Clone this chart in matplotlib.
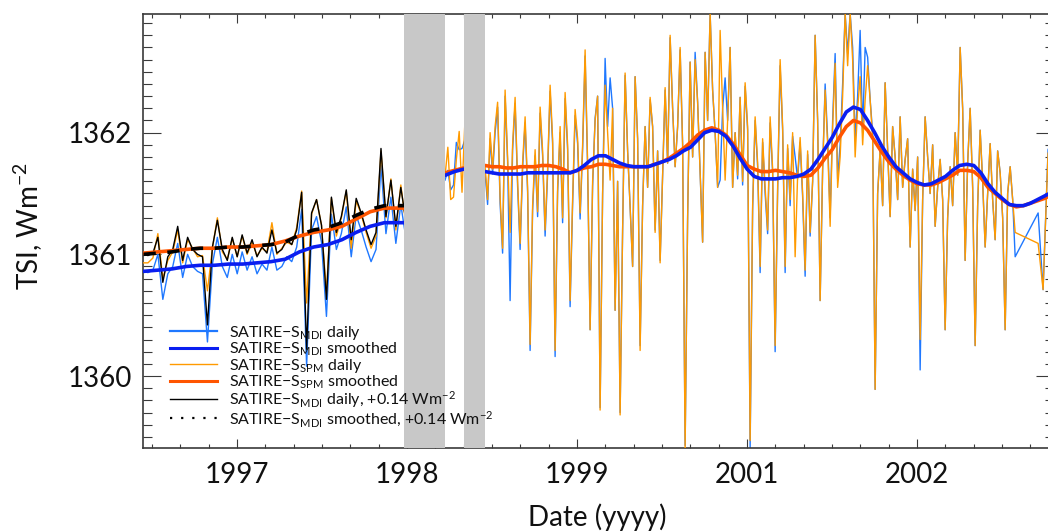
import numpy as np
import matplotlib
matplotlib.use("Agg")
import matplotlib.pyplot as plt
from matplotlib.lines import Line2D
from matplotlib.ticker import FixedLocator, MultipleLocator, FuncFormatter

# SATIRE-S total solar irradiance: MDI and SPM based reconstructions

# daily values before the 1998 gap (one every 0.035 yr)
pre_start = 1996.836
mdi_daily_pre = [
    1360.86, 1360.85, 1360.87, 1361.00, 1360.63, 1360.84, 1360.90, 1361.09, 1360.81, 1361.00,
    1360.90, 1360.86, 1360.84, 1360.28, 1360.92, 1361.14, 1360.90, 1360.81, 1361.00, 1360.84,
    1361.02, 1360.87, 1360.98, 1360.84, 1360.92, 1360.87, 1361.06, 1360.87, 1360.90, 1360.98,
    1360.94, 1361.06, 1361.37, 1360.08, 1361.20, 1361.31, 1361.10, 1360.49, 1361.33, 1361.04,
    1361.17, 1361.39, 1360.98, 1361.32, 1361.20, 1361.06, 1360.94, 1361.04, 1361.73, 1361.17,
    1361.47, 1361.09, 1361.41, 1361.14,
]
spm_daily_pre = [
    1360.93, 1360.93, 1360.97, 1361.17, 1360.80, 1360.95, 1361.02, 1361.20, 1360.93, 1361.12,
    1361.05, 1360.98, 1360.99, 1360.70, 1361.05, 1361.30, 1361.02, 1360.96, 1361.13, 1360.98,
    1361.15, 1361.00, 1361.10, 1360.99, 1361.05, 1361.02, 1361.26, 1361.00, 1361.05, 1361.10,
    1361.08, 1361.22, 1361.52, 1360.60, 1361.33, 1361.45, 1361.24, 1360.68, 1361.46, 1361.15,
    1361.30, 1361.52, 1361.05, 1361.44, 1361.33, 1361.18, 1361.05, 1361.15, 1361.85, 1361.30,
    1361.62, 1361.20, 1361.57, 1361.25,
]

# short stretch between the two gaps (one every 0.02 yr)
mid_start = 1998.968
mdi_daily_mid = [1361.61, 1361.69, 1361.53, 1361.57, 1361.92, 1361.86, 1361.87, 1361.94]
spm_daily_mid = [1361.64, 1361.88, 1361.45, 1361.47, 1361.78, 1362.01, 1361.51, 1362.08]

# after the gaps: values every 0.0353 yr ...
post_start = 1999.251
mdi_daily_post = [
    1361.67, 1361.95, 1362.00, 1361.42, 1362.30, 1360.62, 1362.24, 1361.04, 1362.08, 1360.21,
    1361.81, 1362.16, 1361.15, 1362.34, 1360.16, 1362.00, 1362.28, 1360.57, 1362.14, 1361.29,
    1362.63, 1360.38, 1362.12, 1359.74, 1362.61, 1362.45, 1360.54, 1359.70, 1362.47, 1361.39,
    1362.46, 1360.25, 1362.05, 1362.27, 1361.20, 1360.95, 1362.35, 1362.78, 1361.72, 1362.68,
    1359.43, 1362.58, 1362.66, 1361.67, 1362.66, 1362.98, 1362.00, 1361.61, 1362.45, 1362.70,
    1362.00, 1362.29, 1362.38, 1359.41, 1362.10, 1360.85, 1361.50, 1362.08, 1360.20, 1362.55,
    1360.85, 1361.40, 1361.80, 1361.92, 1360.82, 1361.15, 1362.80, 1360.62, 1362.40, 1361.30,
    1362.65, 1361.90, 1362.98, 1362.98, 1361.95, 1362.84, 1362.70, 1362.27, 1359.89, 1361.86,
    1362.41, 1361.31, 1361.80, 1362.13, 1361.78, 1361.06, 1361.36, 1360.05, 1362.13, 1361.50,
    1361.23, 1361.78, 1360.38, 1361.72, 1362.00, 1362.70, 1360.95, 1362.20, 1360.25, 1362.02,
    1361.06, 1361.91, 1361.12, 1361.67, 1360.38, 1361.72, 1360.98,
]
spm_daily_post = [
    1361.72, 1362.00, 1362.05, 1361.47, 1362.35, 1361.18, 1362.29, 1361.09, 1362.13, 1360.26,
    1361.86, 1362.21, 1361.20, 1362.39, 1360.21, 1362.05, 1362.33, 1360.62, 1362.19, 1361.34,
    1362.68, 1360.38, 1362.10, 1359.72, 1362.39, 1361.61, 1360.54, 1359.68, 1362.49, 1361.39,
    1362.46, 1360.21, 1362.05, 1362.29, 1361.18, 1360.93, 1362.37, 1362.80, 1361.72, 1362.70,
    1359.41, 1362.58, 1362.60, 1361.67, 1362.66, 1362.98, 1362.00, 1362.84, 1361.61, 1362.70,
    1362.00, 1362.29, 1362.41, 1359.47, 1362.13, 1360.90, 1361.55, 1362.13, 1360.25, 1362.60,
    1360.90, 1361.45, 1360.98, 1361.96, 1360.87, 1361.18, 1362.80, 1360.62, 1362.35, 1361.23,
    1362.57, 1361.80, 1362.98, 1362.98, 1361.80, 1362.46, 1362.27, 1362.27, 1359.89, 1361.86,
    1362.41, 1361.31, 1361.80, 1362.13, 1361.78, 1361.06, 1361.36, 1360.30, 1362.13, 1361.50,
    1361.23, 1361.78, 1360.38, 1361.72, 1362.00, 1362.70, 1360.95, 1362.20, 1360.25, 1362.02,
    1361.06, 1361.91, 1361.12, 1361.67, 1360.38, 1361.72, 1361.18,
]
# ... and the days half way between them
mdi_daily_post_half = [
    1361.41, 1361.66, 1362.21, 1361.01, 1361.76, 1361.86, 1361.56, 1361.71, 1361.51, 1361.36,
    1361.31, 1361.81, 1361.66, 1361.91, 1361.51, 1361.26, 1361.86, 1361.41, 1361.91, 1361.86,
    1361.71, 1361.56, 1362.30, 1361.50, 1362.05, 1362.20, 1361.60, 1361.20, 1361.85, 1360.90,
    1361.95, 1361.40, 1361.55, 1362.05, 1361.85, 1361.65, 1361.75, 1362.20, 1362.05, 1361.90,
    1361.30, 1361.80, 1362.25, 1361.10, 1362.10, 1362.35, 1361.55, 1362.20, 1362.10, 1361.55,
    1361.62, 1361.57, 1362.02, 1361.37, 1361.72, 1361.92, 1361.17, 1361.67, 1361.52, 1362.02,
    1361.87, 1361.97, 1361.62, 1361.47, 1361.82, 1361.60, 1362.10, 1361.70, 1361.95, 1362.10,
    1361.62, 1362.40, 1362.65, 1362.70, 1362.30, 1362.00, 1362.62, 1362.00, 1361.50, 1361.40,
    1361.85, 1362.05, 1361.45, 1361.55, 1361.95, 1361.70, 1361.80, 1361.45, 1361.80, 1361.90,
    1361.55, 1361.45, 1361.30, 1361.40, 1361.65, 1362.20, 1361.75, 1361.55, 1361.40, 1361.60,
    1361.50, 1361.45, 1361.85, 1361.30, 1361.50, 1361.45,
]
spm_daily_post_half = [
    1361.45, 1361.70, 1362.25, 1361.05, 1361.80, 1361.90, 1361.60, 1361.75, 1361.55, 1361.40,
    1361.35, 1361.85, 1361.70, 1361.95, 1361.55, 1361.30, 1361.90, 1361.45, 1361.95, 1361.90,
    1361.75, 1361.60, 1362.30, 1361.50, 1362.00, 1362.20, 1361.60, 1361.20, 1361.85, 1360.90,
    1361.95, 1361.40, 1361.55, 1362.05, 1361.85, 1361.65, 1361.75, 1362.20, 1362.05, 1361.90,
    1361.30, 1361.80, 1362.25, 1361.10, 1362.10, 1362.35, 1361.55, 1362.20, 1362.10, 1361.55,
    1361.65, 1361.60, 1362.05, 1361.40, 1361.75, 1361.95, 1361.20, 1361.70, 1361.55, 1362.05,
    1361.90, 1362.00, 1361.65, 1361.50, 1361.85, 1361.60, 1362.10, 1361.70, 1361.90, 1362.05,
    1361.55, 1362.30, 1362.55, 1362.60, 1362.20, 1361.90, 1362.55, 1361.95, 1361.50, 1361.40,
    1361.85, 1362.05, 1361.45, 1361.55, 1361.95, 1361.70, 1361.80, 1361.45, 1361.80, 1361.90,
    1361.55, 1361.45, 1361.30, 1361.40, 1361.65, 1362.20, 1361.75, 1361.55, 1361.40, 1361.60,
    1361.50, 1361.45, 1361.85, 1361.30, 1361.50, 1361.45,
]
late_dates = [2003.155, 2003.190, 2003.225, 2003.260]
mdi_daily_late = [1361.34, 1360.71, 1361.86, 1361.95]
spm_daily_late = [1361.09, 1360.71, 1361.83, 1361.92]

# smoothed series: every 0.1 yr before the gap, every 0.05 yr after it
mdi_smooth_pre = [
    1360.86, 1360.87, 1360.88, 1360.90, 1360.91, 1360.91, 1360.92, 1360.92, 1360.93, 1360.94,
    1360.96, 1361.02, 1361.06, 1361.08, 1361.12, 1361.18, 1361.23, 1361.26, 1361.26, 1361.26,
]
spm_smooth_pre = [
    1361.01, 1361.02, 1361.03, 1361.04, 1361.05, 1361.05, 1361.06, 1361.06, 1361.07, 1361.08,
    1361.11, 1361.15, 1361.18, 1361.20, 1361.23, 1361.29, 1361.35, 1361.38, 1361.38, 1361.38,
]
mid_smooth_dates = [1998.97, 1999.035, 1999.10]
mdi_smooth_mid = [1361.65, 1361.68, 1361.70]
spm_smooth_mid = [1361.67, 1361.69, 1361.71]
mdi_smooth_post = [
    1361.68, 1361.67, 1361.66, 1361.66, 1361.66, 1361.66, 1361.67, 1361.67, 1361.67, 1361.67,
    1361.67, 1361.67, 1361.67, 1361.69, 1361.73, 1361.78, 1361.81, 1361.81, 1361.78, 1361.75,
    1361.73, 1361.72, 1361.72, 1361.72, 1361.74, 1361.76, 1361.78, 1361.81, 1361.85, 1361.88,
    1361.94, 1362.00, 1362.02, 1362.01, 1361.97, 1361.89, 1361.79, 1361.70, 1361.64, 1361.62,
    1361.62, 1361.62, 1361.63, 1361.63, 1361.64, 1361.66, 1361.70, 1361.78, 1361.87, 1361.96,
    1362.07, 1362.17, 1362.21, 1362.19, 1362.10, 1362.00, 1361.89, 1361.80, 1361.72, 1361.67,
    1361.62, 1361.59, 1361.57, 1361.58, 1361.61, 1361.64, 1361.69, 1361.73, 1361.74, 1361.73,
    1361.67, 1361.58, 1361.51, 1361.46, 1361.41, 1361.40, 1361.40, 1361.42, 1361.45, 1361.48,
    1361.51,
]
spm_smooth_post = [
    1361.73, 1361.72, 1361.72, 1361.71, 1361.71, 1361.72, 1361.72, 1361.72, 1361.73, 1361.73,
    1361.72, 1361.70, 1361.67, 1361.69, 1361.71, 1361.72, 1361.74, 1361.74, 1361.73, 1361.72,
    1361.72, 1361.72, 1361.72, 1361.72, 1361.74, 1361.76, 1361.79, 1361.83, 1361.87, 1361.92,
    1361.98, 1362.02, 1362.04, 1362.02, 1361.98, 1361.91, 1361.82, 1361.73, 1361.70, 1361.68,
    1361.68, 1361.69, 1361.68, 1361.67, 1361.65, 1361.64, 1361.65, 1361.71, 1361.79, 1361.86,
    1361.96, 1362.05, 1362.10, 1362.08, 1362.02, 1361.93, 1361.84, 1361.76, 1361.70, 1361.65,
    1361.61, 1361.58, 1361.57, 1361.57, 1361.59, 1361.62, 1361.65, 1361.69, 1361.69, 1361.68,
    1361.63, 1361.55, 1361.50, 1361.45, 1361.41, 1361.39, 1361.40, 1361.42, 1361.44, 1361.46,
    1361.49,
]

gaps = [(1998.68, 1998.968), (1999.10, 1999.251)]
mdi_offset = 0.14
tick_years = [1997.5, 1998.7, 1999.9, 2001.1, 2002.3]


def interleave(a, b):
    out = np.empty(len(a) + len(b))
    out[0::2] = a
    out[1::2] = b
    return out


# build date axes
pre_dates = pre_start + 0.035 * np.arange(len(mdi_daily_pre))
mid_dates = mid_start + 0.02 * np.arange(len(mdi_daily_mid))
mdi_post = np.concatenate([interleave(mdi_daily_post, mdi_daily_post_half), mdi_daily_late])
spm_post = np.concatenate([interleave(spm_daily_post, spm_daily_post_half), spm_daily_late])
post_dates = np.concatenate([post_start + 0.01765 * np.arange(len(mdi_post) - len(late_dates)),
                             late_dates])
spre_dates = 1996.84 + 0.1 * np.arange(len(mdi_smooth_pre))
spost_dates = post_start + 0.05 * np.arange(len(mdi_smooth_post))


def joined(*parts):
    xs, ys = [], []
    for x, y in parts:
        xs += list(x) + [np.nan]
        ys += list(y) + [np.nan]
    return np.array(xs), np.array(ys)


dx, mdi_d = joined((pre_dates, mdi_daily_pre), (mid_dates, mdi_daily_mid), (post_dates, mdi_post))
_, spm_d = joined((pre_dates, spm_daily_pre), (mid_dates, spm_daily_mid), (post_dates, spm_post))
sx, mdi_s = joined((spre_dates, mdi_smooth_pre), (mid_smooth_dates, mdi_smooth_mid),
                   (spost_dates, mdi_smooth_post))
_, spm_s = joined((spre_dates, spm_smooth_pre), (mid_smooth_dates, spm_smooth_mid),
                  (spost_dates, spm_smooth_post))

plt.rcParams['font.family'] = ['Lato', 'DejaVu Sans']
plt.rcParams['mathtext.fontset'] = 'custom'
plt.rcParams['mathtext.rm'] = 'Lato'
plt.rcParams['mathtext.it'] = 'Lato:italic'

axis_col = '#3a3a3a'
text_col = '#111111'
c_mdi, c_mdi_s = '#1f78ff', '#0a1ef0'
c_spm, c_spm_s = '#ff9a00', '#ff5500'

fig = plt.figure(figsize=(10.48, 5.32), dpi=100)
ax = fig.add_axes([143 / 1048, 83.7 / 532, 911 / 1048, 434.3 / 532])

ax.plot(dx, mdi_d, color=c_mdi, lw=1.0, zorder=2)
ax.plot(dx, spm_d, color=c_spm, lw=1.0, zorder=3)
ax.plot(pre_dates, np.array(mdi_daily_pre) + mdi_offset, color='black', lw=1.0, zorder=4)
ax.plot(sx, spm_s, color=c_spm_s, lw=2.6, zorder=5, solid_capstyle='round')
ax.plot(sx, mdi_s, color=c_mdi_s, lw=2.6, zorder=6, solid_capstyle='round')
ax.plot(spre_dates, np.array(mdi_smooth_pre) + mdi_offset, color='black', lw=2.6,
        ls=(0, (3.4, 3.2)), zorder=7)

# data gaps, drawn over the curves and the axis lines
for a, b in gaps:
    ax.axvspan(a, b, color='#c8c8c8', lw=0, zorder=10)

ax.set_xlim(1996.836, 2003.267)
ax.set_ylim(1359.406, 1362.975)

ax.xaxis.set_major_locator(FixedLocator(tick_years))
ax.xaxis.set_minor_locator(FixedLocator(np.arange(1996.9, 2003.3, 0.2)))
ax.xaxis.set_major_formatter(FuncFormatter(lambda v, p: str(int(np.floor(v + 1e-6)))))
ax.yaxis.set_major_locator(FixedLocator([1360, 1361, 1362]))
ax.yaxis.set_minor_locator(MultipleLocator(0.1))
ax.yaxis.set_major_formatter(FuncFormatter(lambda v, p: '%d' % round(v)))

ax.tick_params(which='both', direction='in', top=True, right=True, color=axis_col,
               width=0.8, labelsize=20, labelcolor=text_col)
ax.tick_params(axis='x', which='major', length=6.5, pad=10)
ax.tick_params(axis='x', which='minor', length=3.2)
ax.tick_params(axis='y', which='major', length=13, pad=8)
ax.tick_params(axis='y', which='minor', length=6.5)
for s in ax.spines.values():
    s.set_color(axis_col)
    s.set_linewidth(1.2)

fig.text(597 / 1048, 1 - 517 / 532, 'Date (yyyy)', ha='center', va='center',
         fontsize=20, color=text_col)
fig.text(28 / 1048, 1 - 226 / 532, 'TSI, Wm$^{-2}$', ha='center', va='center',
         rotation=90, fontsize=20, color=text_col)

handles = [
    Line2D([], [], color=c_mdi, lw=1.6),
    Line2D([], [], color=c_mdi_s, lw=2.2),
    Line2D([], [], color=c_spm, lw=1.0),
    Line2D([], [], color=c_spm_s, lw=2.2),
    Line2D([], [], color='black', lw=1.0),
    Line2D([], [], color='black', lw=1.6, ls=(0, (1, 4))),
]
labels = [
    'SATIRE\u2212S$_{\\rm MDI}$ daily',
    'SATIRE\u2212S$_{\\rm MDI}$ smoothed',
    'SATIRE\u2212S$_{\\rm SPM}$ daily',
    'SATIRE\u2212S$_{\\rm SPM}$ smoothed',
    'SATIRE\u2212S$_{\\rm MDI}$ daily, +0.14 Wm$^{-2}$',
    'SATIRE\u2212S$_{\\rm MDI}$ smoothed, +0.14 Wm$^{-2}$',
]
leg = ax.legend(handles, labels, loc='lower left', bbox_to_anchor=(0.03, 0.045),
                frameon=False, fontsize=11.5, handlelength=2.95, handletextpad=0.7,
                labelspacing=-0.08, borderpad=0, borderaxespad=0, labelcolor=text_col)
leg.set_zorder(12)

fig.savefig('out.png', dpi=100)
